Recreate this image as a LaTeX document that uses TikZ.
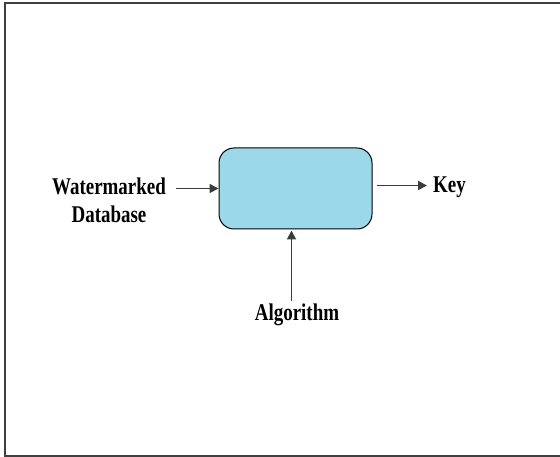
\documentclass[tikz,border=0pt]{standalone}
\usepackage{fontspec}
\setmainfont{Liberation Serif}[FakeStretch=0.79]
\usetikzlibrary{arrows.meta}
\definecolor{boxblue}{RGB}{155,217,234}
\definecolor{arrowgrey}{RGB}{60,60,60}

\begin{document}
\begin{tikzpicture}[x=1pt,y=-1pt,
  lbl/.style={inner sep=0pt,font=\fontsize{24}{28}\selectfont\bfseries,align=center},
  arr/.style={-{Triangle[length=9pt,width=9pt]},line width=1.8pt,arrowgrey}]
\useasboundingbox (0,0) rectangle (560,457);
\draw [line width=1.6pt, black!75] (562,3) -- (5,3) -- (5,456) -- (562,456);

\node [draw, line width=1pt, fill=boxblue, rounded corners=15pt, minimum width=153pt, minimum height=81pt] (box) at (295.5,188.5) {};

\node [lbl] (wm) at (109,200) {Watermarked\\Database};
\node [lbl, anchor=base west] (key) at (433,193) {Key};
\node [lbl, anchor=base] (algo) at (297,320) {Algorithm};

\draw [arr, shorten <=10pt] (wm.east |- box.west) -- (box.west);
\draw [arr, shorten <=4pt, shorten >=6pt] ([yshift=3pt]box.east) -- ([yshift=3pt]box.east -| key.west);
\draw [arr, shorten <=2pt, shorten >=1pt] (algo.north -| box.south) ++(-4,0) -- ([xshift=-4pt]box.south);

\end{tikzpicture}
\end{document}
